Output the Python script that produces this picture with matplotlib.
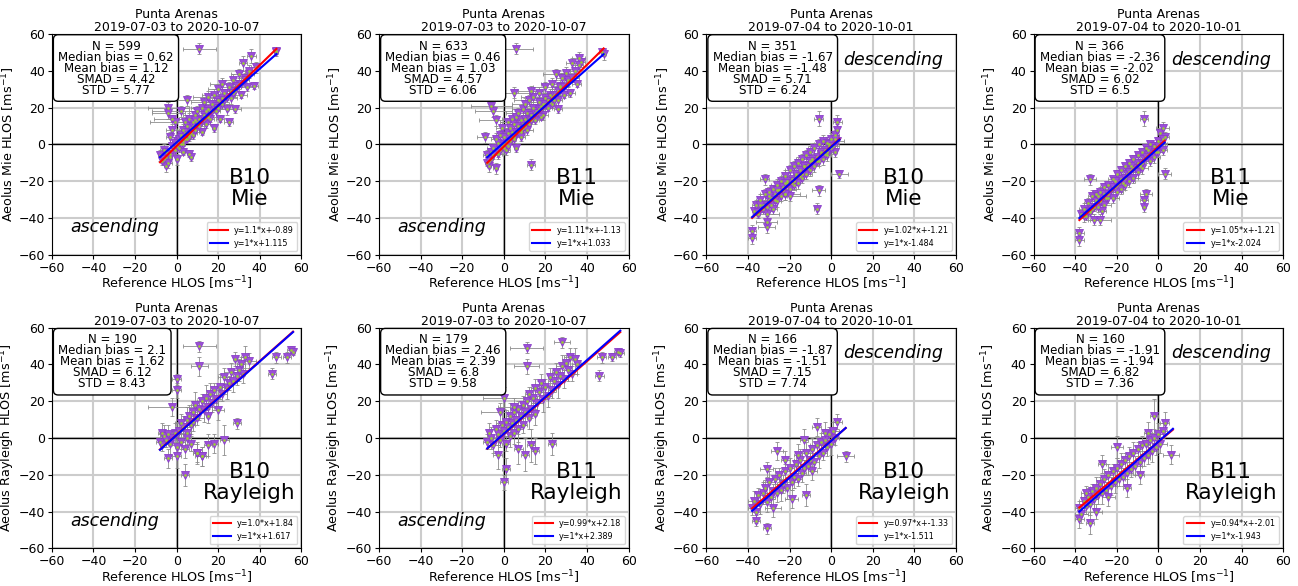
import numpy as np
import matplotlib
matplotlib.use('Agg')
import matplotlib.pyplot as plt

# ---- panel 1: B10 Mie ascending ----
p1_x = [-8, -7, -6, -5, -5, -4, -3, -3, -2, -2, -1, 0, 0, 1, 1, 2, 2, 3, 3, 4, 4, 5, 5, 6, 6, 7, 7, 8, 8, 9,
        9, 10, 10, 11, 11, 12, 12, 13, 13, 14, 15, 15, 16, 17, 18, 18, 19, 20, 20, 21, 22, 22, 23, 24, 25, 25, 26, 27, 28, 28,
        30, 30, 31, 32, 33, 34, 35, 36, 37, 38, 48, 48, -4, -4, -2, 2, 5, -1,
        0, 1, 2, 3, 4, 5, 6, 7, 8, 9, 10, 11, 12, 13, 14, 15, 16, 17, 18, 19, 20, 21, 22, 23, 24,
        26, 27, 29, 31, 33, -6, -5, -3, -1, 3, 6, 9, 14, 24, 35]
p1_y = [-6, -9, -3, -12, -7, -10, -5, 4, -1, 8, -3, 2, -8, 3, -2, 5, 0, 8, -4, 6, 12, 3, 10, 14, -5, 9, -7, 12, 5, 16,
        8, 18, 11, 52, 14, 20, 7, 16, 23, 11, 19, 26, 14, 22, 27, 9, 18, 24, 30, 14, 22, 33, 28, 19, 31, 12, 25, 35, 29, 19,
        33, 38, 27, 44, 36, 31, 40, 48, 32, 42, 50, 51, 20, 17, 14, 18, 24, 12,
        -1, 1, 4, 2, 3, 7, 5, 6, 10, 10, 12, 10, 13, 14, 15, 15, 18, 18, 20, 21, 20, 23, 25, 24, 26,
        29, 28, 32, 33, 35, -8, -4, -7, 1, 0, 4, 13, 18, 26, 38]
p1_xe = [1, 1, 2, 1, 1, 2, 1, 2, 1, 3, 1, 2, 1, 1, 2, 2, 1, 3, 1, 2, 4, 1, 2, 5, 1, 2, 1, 3, 1, 6,
         2, 4, 2, 8, 3, 5, 1, 2, 6, 2, 3, 7, 2, 3, 6, 1, 2, 4, 5, 2, 3, 6, 2, 3, 4, 2, 3, 5, 2, 3,
         2, 4, 3, 2, 2, 3, 2, 2, 2, 2, 1, 1, 10, 8, 9, 14, 10, 12,
         1, 2, 1, 2, 1, 2, 1, 3, 1, 2, 1, 2, 3, 1, 2, 1, 2, 1, 3, 2, 1, 2, 2, 1, 3,
         2, 1, 2, 3, 2, 1, 2, 1, 2, 1, 2, 1, 2, 3, 2]
p1_ye = [3, 2, 3, 3, 2, 3, 2, 3, 2, 3, 2, 3, 3, 2, 2, 3, 2, 3, 2, 3, 3, 2, 3, 3, 2, 3, 2, 3, 2, 3,
         2, 3, 2, 3, 2, 3, 2, 3, 3, 2, 3, 3, 2, 3, 3, 2, 3, 3, 3, 2, 3, 3, 2, 3, 3, 2, 3, 3, 3, 2,
         3, 3, 2, 4, 3, 2, 3, 4, 2, 3, 2, 2, 3, 3, 2, 3, 3, 2,
         2, 3, 2, 3, 2, 3, 2, 3, 2, 3, 2, 3, 2, 3, 2, 3, 2, 3, 2, 3, 2, 3, 2, 3, 2,
         3, 2, 3, 2, 3, 3, 2, 3, 2, 3, 2, 3, 2, 3, 2]

# ---- panel 2: B11 Mie ascending ----
p2_x = [-8, -8, -7, -6, -6, -5, -4, -4, -3, -3, -2, -1, -1, 0, 0, 1, 1, 2, 2, 3, 3, 4, 4, 5, 5, 6, 6, 7, 7, 8,
        8, 9, 9, 10, 10, 11, 12, 12, 13, 13, 14, 14, 15, 16, 17, 17, 18, 19, 20, 20, 21, 22, 23, 23, 24, 25, 26, 26, 27, 28,
        29, 30, 31, 32, 33, 34, 35, 36, 37, 47, 48, -9, -6, -5, -4, 5, 13, 6,
        0, 1, 2, 3, 4, 5, 6, 7, 8, 9, 10, 11, 12, 13, 14, 15, 16, 17, 18, 19, 20, 21, 22, 23, 24, 25,
        27, 29, 31, 33, -7, -5, -3, -2, 2, 8, 11, 18, 26, 36]
p2_y = [-6, -10, -12, -4, -8, -2, -13, 3, 1, -5, 5, -1, 9, 0, 4, 2, -3, 6, 12, 4, 9, 7, 14, 3, 11, 15, -2, 10, 17, 7,
        13, 19, 9, 14, 22, 17, 11, 24, 16, -11, 20, 26, 13, 18, 23, 28, 21, 16, 25, 31, 20, 27, 33, 22, 24, 38, 29, 19, 32, 36,
        27, 39, 34, 28, 44, 40, 33, 47, 45, 50, 49, 4, 21, 18, 13, 28, 29, 52,
        -2, 0, 2, 2, 5, 4, 7, 7, 8, 11, 10, 12, 14, 13, 15, 17, 17, 19, 19, 22, 22, 24, 23, 26, 27, 27,
        31, 31, 35, 36, -9, -6, -4, -3, -1, 4, 8, 15, 24, 43]
p2_xe = [2, 1, 1, 2, 1, 3, 1, 2, 1, 2, 2, 1, 3, 1, 2, 1, 2, 2, 4, 1, 3, 2, 5, 1, 3, 2, 1, 2, 6, 1,
         3, 5, 2, 3, 6, 2, 1, 7, 2, 2, 3, 6, 2, 3, 4, 5, 2, 2, 4, 6, 2, 3, 5, 2, 2, 6, 3, 2, 4, 3,
         2, 4, 3, 2, 3, 2, 2, 3, 2, 1, 1, 4, 10, 9, 8, 10, 6, 8,
         2, 1, 2, 1, 2, 1, 3, 2, 1, 2, 1, 2, 1, 3, 2, 1, 2, 1, 2, 3, 1, 2, 1, 2, 3, 1,
         2, 1, 2, 3, 1, 2, 1, 2, 1, 2, 3, 1, 2, 2]
p2_ye = [3, 2, 3, 2, 3, 2, 3, 3, 2, 3, 3, 2, 3, 2, 3, 2, 3, 3, 2, 3, 3, 2, 3, 2, 3, 3, 2, 3, 3, 2,
         3, 3, 2, 3, 3, 2, 3, 3, 2, 3, 3, 3, 2, 3, 3, 3, 2, 3, 3, 3, 2, 3, 3, 2, 3, 3, 3, 2, 3, 3,
         2, 3, 3, 2, 3, 3, 2, 3, 3, 2, 3, 3, 2, 3, 3, 3, 3, 3,
         3, 2, 3, 2, 3, 2, 3, 2, 3, 2, 3, 2, 3, 2, 3, 2, 3, 2, 3, 2, 3, 2, 3, 2, 3, 2,
         3, 2, 3, 2, 3, 2, 3, 2, 3, 2, 3, 2, 3, 2]

# ---- panel 3: B10 Mie descending ----
p3_x = [-38, -38, -37, -36, -35, -34, -33, -32, -31, -31, -31, -30, -30, -29, -28, -28, -27, -26, -26, -25,
        -24, -24, -23, -22, -22, -21, -20, -20, -19, -18, -18, -17, -16, -16, -15, -14, -14, -13, -12, -12,
        -11, -10, -10, -9, -8, -8, -7, -6, -6, -5, -4, -4, -3, -2, -2, -1, 0, 0, 1, 2,
        2, 3, 3, 3, -6, -7, -32, -20, -22, 4,
        -35, -33, -31, -29, -27, -25, -23, -21, -19, -17, -15, -13, -11, -9, -7, -5, -3, -1, 1,
        -34, -30, -26, -22, -18, -14, -10, -6, -2, 2, -28]
p3_y = [-47, -51, -36, -33, -38, -30, -35, -27, -45, -42, -38, -30, -26, -33, -24, -29, -27, -22, -31, -25,
        -20, -28, -23, -17, -27, -21, -14, -24, -19, -12, -22, -17, -10, -21, -14, -8, -18, -12, -6, -16,
        -11, -4, -14, -9, -2, -12, -7, 0, -25, -5, 2, -8, -3, 1, -6, -1, 3, -2, 0, 5,
        -4, 12, 8, 2, 14, -35, -19, -28, -27, -16,
        -37, -33, -34, -29, -30, -25, -25, -20, -21, -16, -17, -12, -13, -8, -9, -4, -5, 0, -1,
        -33, -28, -25, -21, -20, -16, -9, -9, -4, 3, -35]
p3_xe = [2, 2, 1, 2, 1, 2, 1, 2, 4, 5, 6, 2, 1, 2, 3, 2, 1, 3, 2, 1, 2, 3, 1, 2, 3, 1, 2, 3, 2, 1,
         2, 3, 2, 1, 2, 3, 1, 2, 2, 3, 1, 2, 2, 1, 3, 2, 1, 2, 3, 1, 2, 2, 1, 3, 2, 1, 2, 3, 2, 2,
         1, 2, 1, 3, 2, 1, 2, 8, 7, 4,
         2, 1, 2, 3, 1, 2, 1, 2, 3, 1, 2, 1, 2, 3, 1, 2, 1, 2, 3, 1, 2, 3, 1, 2, 3, 1, 2, 3, 1, 2]
p3_ye = [3, 3, 2, 3, 2, 3, 2, 3, 3, 3, 3, 2, 3, 3, 2, 3, 2, 3, 3, 2, 3, 3, 2, 3, 3, 2, 3, 3, 2, 3,
         3, 2, 3, 3, 2, 3, 3, 2, 3, 3, 2, 3, 3, 2, 3, 3, 2, 3, 3, 2, 3, 3, 2, 3, 3, 2, 3, 3, 2, 3,
         3, 4, 3, 2, 4, 3, 3, 3, 3, 2,
         3, 2, 3, 3, 2, 3, 2, 3, 3, 2, 3, 2, 3, 3, 2, 3, 2, 3, 3, 2, 3, 3, 2, 3, 3, 2, 3, 3, 2, 3]

# ---- panel 4: B11 Mie descending ----
p4_x = [-38, -38, -37, -36, -35, -34, -33, -32, -31, -31, -30, -30, -29, -28, -28, -27, -26, -26, -25, -24,
        -24, -23, -22, -22, -21, -20, -20, -19, -18, -18, -17, -16, -16, -15, -14, -14, -13, -12, -12, -11,
        -10, -10, -9, -8, -8, -7, -6, -6, -5, -4, -4, -3, -2, -2, -1, 0, 0, 1, 1, 2,
        2, 3, -7, -7, -33, -28, -7, 3,
        -36, -34, -32, -30, -28, -26, -24, -22, -20, -18, -16, -14, -12, -10, -8, -6, -4, -2, 0,
        -33, -29, -25, -21, -17, -13, -9, -5, -1, 2, -27]
p4_y = [-48, -52, -38, -35, -39, -32, -36, -28, -41, -34, -30, -27, -34, -26, -31, -29, -23, -33, -27, -22,
        -29, -25, -19, -29, -23, -16, -26, -21, -14, -24, -19, -12, -22, -16, -10, -20, -14, -8, -18, -13,
        -6, -15, -11, -4, -13, -8, -2, -27, -6, 0, -9, -4, -1, -7, -2, 2, -4, 0, 6, -3,
        9, 4, 14, -34, -19, -41, -30, -16,
        -39, -36, -35, -31, -31, -27, -27, -23, -22, -19, -18, -15, -13, -10, -10, -7, -5, -3, -1,
        -37, -28, -29, -20, -21, -12, -12, -3, -4, 3, -36]
p4_xe = [2, 2, 1, 2, 1, 2, 1, 2, 3, 2, 1, 2, 3, 1, 2, 1, 2, 3, 1, 2, 3, 1, 2, 3, 2, 1, 3, 2, 1, 2,
         3, 1, 2, 2, 1, 3, 2, 1, 2, 3, 1, 2, 2, 1, 3, 2, 1, 3, 2, 1, 2, 2, 1, 3, 2, 1, 2, 3, 1, 2,
         3, 2, 2, 1, 3, 5, 2, 3,
         2, 1, 2, 3, 1, 2, 1, 2, 3, 1, 2, 1, 2, 3, 1, 2, 1, 2, 3, 1, 2, 3, 1, 2, 3, 1, 2, 3, 1, 2]
p4_ye = [3, 3, 2, 3, 2, 3, 2, 3, 3, 2, 3, 2, 3, 3, 2, 3, 2, 3, 3, 2, 3, 3, 2, 3, 3, 2, 3, 3, 2, 3,
         3, 2, 3, 3, 2, 3, 3, 2, 3, 3, 2, 3, 3, 2, 3, 3, 2, 3, 3, 2, 3, 3, 2, 3, 3, 2, 3, 3, 2, 3,
         3, 3, 4, 3, 3, 3, 3, 3,
         3, 2, 3, 3, 2, 3, 2, 3, 3, 2, 3, 2, 3, 3, 2, 3, 2, 3, 3, 2, 3, 3, 2, 3, 3, 2, 3, 3, 2, 3]

# ---- panel 5: B10 Rayleigh ascending ----
p5_x = [-8, -7, -7, -6, -5, -4, -3, -2, -1, 0, 0, 1, 2, 2, 3, 4, 5, 5, 6, 7, 7, 8, 8, 9, 10, 10, 11, 12, 12, 13,
        14, 15, 15, 16, 17, 18, 19, 20, 21, 22, 23, 24, 25, 26, 27, 28, 29, 30, 31, 32, 33, 35, 11, 11, 0, 0, -2, 4, 46, 55,
        56, 53, 48, 29, 23, -4, 10, 12, 0, 5, 15, 18]
p5_y = [-2, 3, -4, 1, -1, 2, -3, 0, 3, 2, -5, 4, 8, -2, 6, -6, 10, 3, 12, 7, -3, 14, 9, 18, 11, -8, 16, 20, -10, 15,
        22, 17, 12, 24, 19, 26, 21, 15, 28, 24, 33, 27, 30, 36, 31, 43, 34, 37, 40, 35, 44, 42, 50, 39, 32, 26, 17, -20, 35, 48,
        47, 44, 44, 8, -1, -11, -8, -10, -10, 0, -4, -3]
p5_xe = [2, 2, 1, 2, 3, 2, 1, 2, 3, 2, 1, 2, 3, 2, 1, 2, 3, 2, 1, 2, 3, 2, 1, 2, 3, 2, 1, 2, 3, 2,
         2, 3, 1, 2, 3, 2, 1, 3, 2, 2, 3, 1, 2, 3, 2, 1, 2, 3, 2, 1, 2, 3, 8, 4, 2, 2, 12, 2, 2, 2,
         1, 2, 2, 2, 2, 2, 2, 2, 2, 2, 2, 2]
p5_ye = [4, 5, 3, 6, 4, 5, 6, 4, 5, 7, 4, 6, 5, 4, 6, 5, 7, 4, 6, 5, 4, 6, 5, 7, 4, 5, 6, 4, 5, 6,
         7, 5, 4, 6, 5, 4, 6, 5, 7, 4, 5, 6, 4, 5, 6, 4, 5, 6, 4, 5, 6, 4, 3, 5, 3, 4, 5, 6, 3, 2,
         2, 3, 3, 3, 8, 5, 6, 5, 6, 5, 6, 5]

# ---- panel 6: B11 Rayleigh ascending ----
p6_x = [-8, -7, -6, -5, -4, -3, -2, -1, 0, 1, 1, 2, 3, 3, 4, 5, 5, 6, 7, 7, 8, 9, 9, 10, 11, 12, 12, 13, 14, 15,
        15, 16, 17, 18, 19, 20, 21, 22, 23, 24, 25, 26, 27, 28, 29, 30, 31, 32, 33, 34, 35, 11, 11, 28, 55, 56, 52, 47, 46, 0,
        -2, 1, 0, 23, -3, 10, 15, 7, 5, 13]
p6_y = [-2, 3, 0, -4, 5, 2, -1, 7, 4, 9, -3, 6, 12, 1, 8, 14, 3, 10, 5, 16, 12, 18, 7, 14, 20, 11, 24, 16, 22, 13,
        27, 19, 25, 30, 21, 28, 23, 33, 26, 31, 36, 29, 34, 39, 32, 41, 37, 44, 35, 43, 40, 49, 39, 52, 47, 46, 44, 44, 34, 22,
        14, -17, -24, -3, -9, -9, -7, -6, 17, -4]
p6_xe = [2, 1, 2, 3, 2, 1, 2, 3, 2, 1, 2, 3, 2, 1, 2, 3, 2, 1, 2, 3, 2, 1, 2, 3, 2, 1, 2, 3, 2, 1,
         2, 3, 2, 1, 2, 3, 2, 1, 2, 3, 2, 1, 2, 3, 2, 1, 2, 3, 2, 1, 2, 8, 6, 4, 2, 2, 2, 2, 2, 10,
         9, 2, 2, 2, 2, 2, 2, 2, 8, 2]
p6_ye = [4, 5, 6, 4, 5, 6, 4, 7, 5, 6, 4, 5, 7, 6, 5, 4, 6, 5, 7, 4, 6, 5, 4, 7, 5, 6, 4, 5, 7, 6,
         5, 4, 6, 5, 7, 4, 6, 5, 4, 6, 5, 7, 4, 6, 5, 4, 6, 5, 4, 6, 5, 3, 4, 3, 2, 2, 2, 3, 3, 6,
         5, 6, 4, 6, 8, 9, 7, 8, 5, 9]

# ---- panel 7: B10 Rayleigh descending ----
p7_x = [-38, -37, -36, -35, -34, -33, -32, -31, -30, -29, -28, -27, -26, -25, -24, -23, -22, -21, -20, -19,
        -18, -17, -16, -15, -14, -13, -12, -11, -10, -9, -8, -7, -6, -5, -4, -3, -2, -1, 0, 1,
        2, -36, -31, -31, -26, -13, -19, -12, -7, 3, 7, -7, -22, -16, -9, -3, -28]
p7_y = [-38, -34, -40, -31, -36, -30, -27, -35, -24, -32, -29, -22, -30, -20, -28, -25, -18, -27, -16, -24,
        -21, -14, -22, -12, -19, -16, -8, -15, -12, -6, -13, -4, -10, -2, -8, -1, -5, 2, -3, 4,
        0, -45, -49, -17, -7, -1, -33, -31, 6, 9, -10, 37, -12, -9, -18, 3, -38]
p7_xe = [2, 3, 2, 1, 3, 2, 1, 2, 3, 2, 1, 3, 2, 1, 2, 3, 2, 1, 2, 3, 2, 1, 2, 3, 2, 1, 2, 3, 2, 1,
         2, 3, 2, 1, 2, 3, 2, 1, 2, 3, 2, 2, 2, 3, 3, 2, 3, 2, 2, 2, 4, 3, 2, 2, 2, 2, 4]
p7_ye = [4, 5, 6, 4, 5, 6, 4, 5, 6, 5, 4, 6, 5, 4, 6, 5, 4, 6, 5, 4, 6, 5, 4, 6, 5, 4, 6, 5, 4, 6,
         5, 4, 6, 5, 4, 6, 5, 4, 6, 5, 4, 3, 3, 4, 5, 6, 5, 6, 5, 4, 3, 4, 5, 6, 5, 6, 5]

# ---- panel 8: B11 Rayleigh descending ----
p8_x = [-38, -37, -36, -35, -34, -33, -32, -31, -30, -29, -28, -27, -26, -25, -24, -23, -22, -21, -20, -19,
        -18, -17, -16, -15, -14, -13, -12, -11, -10, -9, -8, -7, -6, -5, -4, -3, -2, -1, 0, 1,
        2, -38, -33, -30, -27, 6, -2, -15, -20, -9, -5, 3, -24, -35]
p8_y = [-38, -41, -34, -37, -32, -36, -29, -33, -27, -31, -25, -30, -22, -28, -20, -26, -18, -24, -16, -22,
        -14, -21, -12, -19, -10, -17, -8, -15, -6, -13, -4, -11, -3, -9, -1, -7, 0, -5, 2, -3,
        4, -44, -46, -40, -14, -9, 12, -27, -5, -20, 3, 8, -32, -30]
p8_xe = [2, 3, 2, 1, 3, 2, 1, 2, 3, 2, 1, 3, 2, 1, 2, 3, 2, 1, 2, 3, 2, 1, 2, 3, 2, 1, 2, 3, 2, 1,
         2, 3, 2, 1, 2, 3, 2, 1, 2, 3, 2, 2, 2, 3, 2, 4, 2, 2, 3, 2, 2, 2, 3, 2]
p8_ye = [4, 5, 6, 4, 5, 6, 4, 5, 6, 5, 4, 6, 5, 4, 6, 5, 4, 6, 5, 4, 6, 5, 4, 6, 5, 4, 6, 5, 4, 6,
         5, 4, 6, 5, 4, 6, 5, 4, 6, 5, 4, 5, 6, 4, 5, 5, 9, 5, 6, 5, 6, 6, 5, 4]

panel_x = [p1_x, p2_x, p3_x, p4_x, p5_x, p6_x, p7_x, p8_x]
panel_y = [p1_y, p2_y, p3_y, p4_y, p5_y, p6_y, p7_y, p8_y]
panel_xe = [p1_xe, p2_xe, p3_xe, p4_xe, p5_xe, p6_xe, p7_xe, p8_xe]
panel_ye = [p1_ye, p2_ye, p3_ye, p4_ye, p5_ye, p6_ye, p7_ye, p8_ye]

# statistics shown in the boxes
n_obs = [599, 633, 351, 366, 190, 179, 166, 160]
median_bias = [0.62, 0.46, -1.67, -2.36, 2.1, 2.46, -1.87, -1.91]
mean_bias = [1.12, 1.03, -1.48, -2.02, 1.62, 2.39, -1.51, -1.94]
smad = [4.42, 4.57, 5.71, 6.02, 6.12, 6.8, 7.15, 6.82]
std = [5.77, 6.06, 6.24, 6.5, 8.43, 9.58, 7.74, 7.36]

# fit lines
fit_slope = [1.1, 1.11, 1.02, 1.05, 1.0, 0.99, 0.97, 0.94]
fit_icpt = [-0.89, -1.13, -1.21, -1.21, 1.84, 2.18, -1.33, -2.01]
fit_label = ['1.1*x+-0.89', '1.11*x+-1.13', '1.02*x+-1.21', '1.05*x+-1.21',
             '1.0*x+1.84', '0.99*x+2.18', '0.97*x+-1.33', '0.94*x+-2.01']
bias_off = [1.115, 1.033, -1.484, -2.024, 1.617, 2.389, -1.511, -1.943]
bias_label = ['1*x+1.115', '1*x+1.033', '1*x-1.484', '1*x-2.024',
              '1*x+1.617', '1*x+2.389', '1*x-1.511', '1*x-1.943']
line_lo = [-8, -8, -38, -38, -8, -8, -38, -38]
line_hi = [48, 48, 4, 3, 56, 56, 7, 7]

baselines = ['B10', 'B11', 'B10', 'B11']
orbits = ['ascending', 'ascending', 'descending', 'descending']
periods = ['2019-07-03 to 2020-10-07', '2019-07-03 to 2020-10-07',
           '2019-07-04 to 2020-10-01', '2019-07-04 to 2020-10-01']
channels = ['Mie', 'Rayleigh']

fig, axes = plt.subplots(2, 4, figsize=(12.98, 5.86), dpi=100)
fig.subplots_adjust(left=0.040, right=0.9885, bottom=0.064, top=0.942,
                    wspace=0.312, hspace=0.33)

purple = '#9b4fd6'
for k in range(8):
    row, col = k // 4, k % 4
    ax = axes[row, col]
    ax.set_axisbelow(True)
    ax.grid(color='#cccccc', lw=1.5)
    ax.axhline(0, color='k', lw=1, zorder=1)
    ax.axvline(0, color='k', lw=1, zorder=1)

    ax.errorbar(panel_x[k], panel_y[k], xerr=panel_xe[k], yerr=panel_ye[k], fmt='none',
                ecolor='0.55', elinewidth=0.6, capsize=1.2, capthick=0.6, zorder=2)
    ax.plot(panel_x[k], panel_y[k], 'v', ms=6, color=purple, mec='#8a3fc8', mew=0.6, zorder=3)
    ax.plot(panel_x[k], panel_y[k], '.', ms=1.8, color='#9acd32', zorder=4)

    xx = np.array([line_lo[k], line_hi[k]])
    ax.plot(xx, fit_slope[k] * xx + fit_icpt[k], color='red', lw=1.5, zorder=5,
            label='y=' + fit_label[k])
    ax.plot(xx, xx + bias_off[k], color='blue', lw=1.5, zorder=6,
            label='y=' + bias_label[k])

    ax.set_xlim(-60, 60)
    ax.set_ylim(-60, 60)
    ax.set_xticks(range(-60, 61, 20))
    ax.set_yticks(range(-60, 61, 20))
    ax.tick_params(labelsize=9, pad=2, length=3)
    ax.set_title('Punta Arenas\n' + periods[col], fontsize=9, pad=2, linespacing=1.0)
    ax.set_xlabel('Reference HLOS [ms$^{-1}$]', fontsize=9.2, labelpad=0)
    ax.set_ylabel('Aeolus ' + channels[row] + ' HLOS [ms$^{-1}$]', fontsize=9.2, labelpad=1)

    stats = ('N = %d\nMedian bias = %s\nMean bias = %s\nSMAD = %s\nSTD = %s'
             % (n_obs[k], median_bias[k], mean_bias[k], smad[k], std[k]))
    ax.text(0.025, 0.975, stats, transform=ax.transAxes, ha='left', va='top',
            multialignment='center', fontsize=8.6, linespacing=0.8, zorder=7,
            bbox=dict(boxstyle='round,pad=0.4', fc='white', ec='black', lw=1))

    ax.text(35, -24, baselines[col] + '\n' + channels[row], fontsize=15.5,
            ha='center', va='center', multialignment='center', linespacing=1.05)
    if col < 2:
        ax.text(-30, -45, orbits[col], fontsize=12.5, style='italic', ha='center', va='center')
    else:
        ax.text(30, 46, orbits[col], fontsize=12.5, style='italic', ha='center', va='center')

    ax.legend(loc='lower right', fontsize=5.8, handlelength=2.2, borderaxespad=0.5)

fig.savefig('out.png', dpi=100)
